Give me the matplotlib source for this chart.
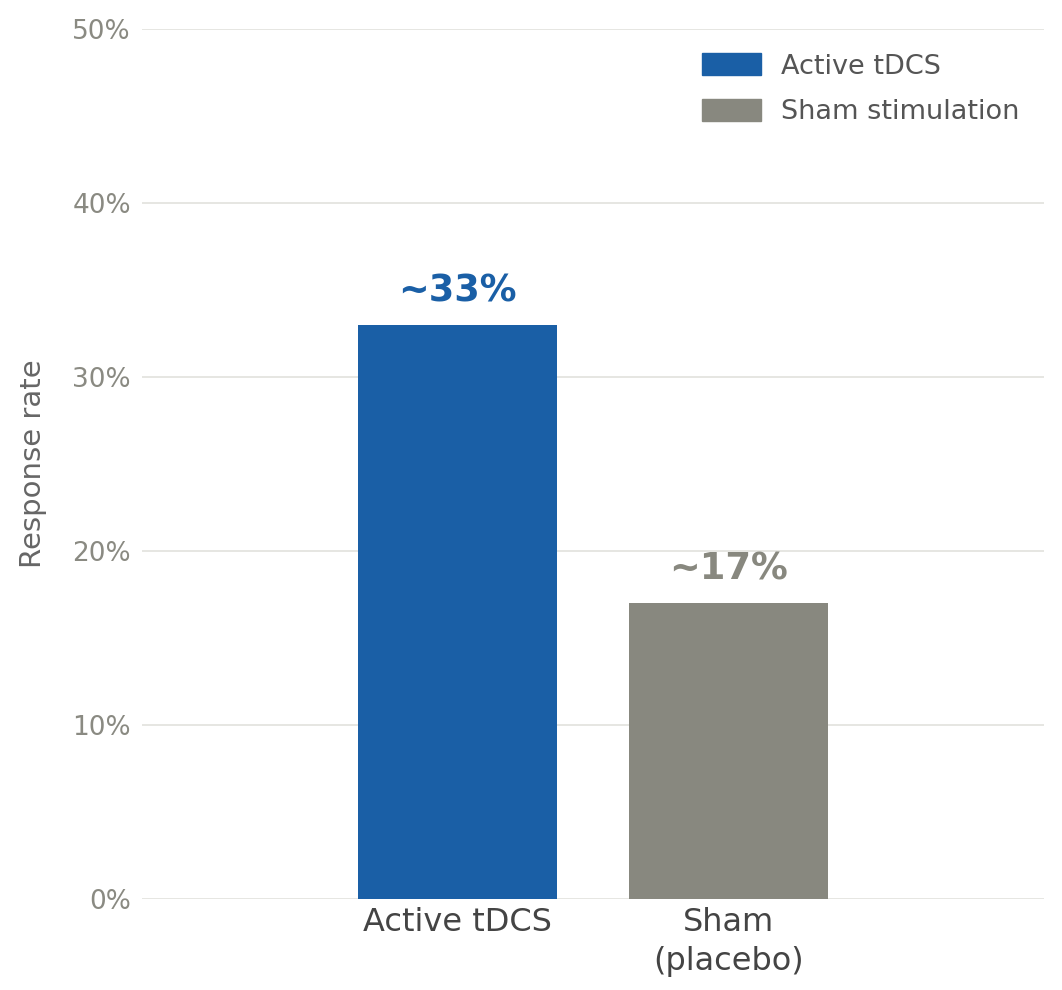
import matplotlib
matplotlib.use('Agg')
import matplotlib.pyplot as plt
from matplotlib.patches import Patch

# dados
grupos = ['Active tDCS', 'Sham\n(placebo)']
taxas = [33, 17]
rotulos = ['~33%', '~17%']
legenda = ['Active tDCS', 'Sham stimulation']
cores = ['#1a5fa6', '#88887f']
yticks = [0, 10, 20, 30, 40, 50]

plt.rcParams['font.family'] = 'DejaVu Sans'

fig = plt.figure(figsize=(10.62, 9.9), dpi=100)
ax = fig.add_axes([0.1337, 0.0919, 0.8493, 0.8788])

pos = list(range(len(grupos)))
ax.bar(pos, taxas, width=0.735, color=cores, zorder=3)

for p, v, t, c in zip(pos, taxas, rotulos, cores):
    ax.annotate(t, (p, v), xytext=(0, 11), textcoords='offset points',
                ha='center', va='bottom', fontsize=26.5, fontweight='bold', color=c)

ax.set_xlim(0.5 - 1.664, 0.5 + 1.664)
ax.set_ylim(0, 50)
ax.set_yticks(yticks)
ax.set_yticklabels([f'{v}%' for v in yticks])
ax.set_xticks(pos)
ax.set_xticklabels(grupos, fontsize=23, color='#444444', linespacing=1.3)

ax.tick_params(axis='y', length=0, pad=8, labelsize=19, labelcolor='#8a8a82')
ax.tick_params(axis='x', length=0, pad=6)
ax.grid(axis='y', color='#e4e4df', linewidth=1.3, zorder=0)
ax.set_axisbelow(True)
for s in ax.spines.values():
    s.set_visible(False)

ax.set_ylabel('Response rate', fontsize=21, color='#666666', labelpad=18)

handles = [Patch(color=c, label=l) for c, l in zip(cores, legenda)]
leg = ax.legend(handles=handles, loc='upper right', frameon=False, fontsize=19.5,
                handlelength=2.2, handleheight=0.85, handletextpad=0.74,
                labelspacing=0.72)
for t in leg.get_texts():
    t.set_color('#555555')

fig.savefig('out.png', dpi=100)
